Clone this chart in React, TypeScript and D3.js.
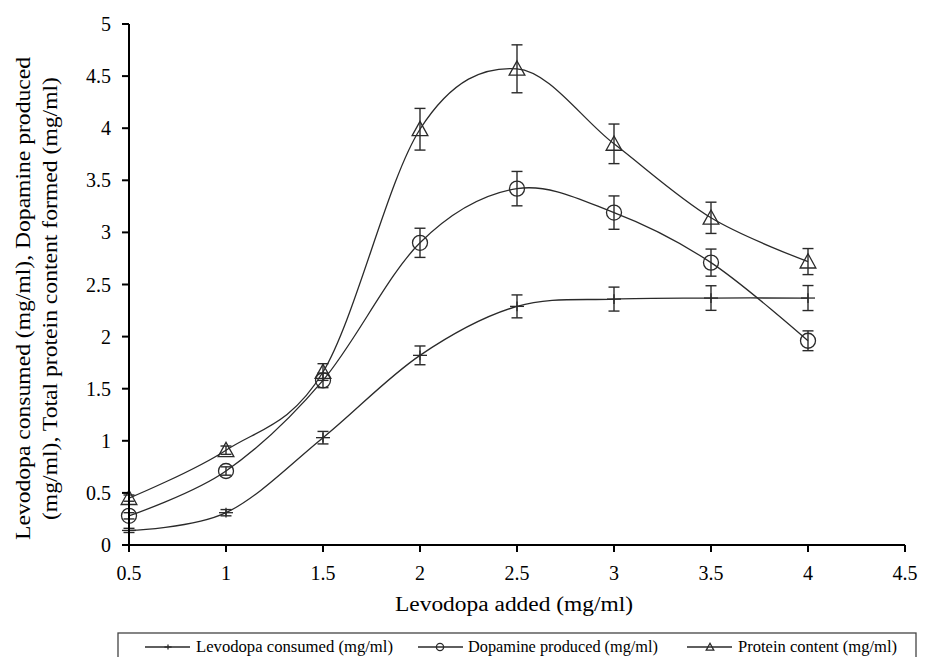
import React from "react";
import * as d3 from "d3";

const xValues = [0.5, 1, 1.5, 2, 2.5, 3, 3.5, 4];
const levodopaConsumed = [0.14, 0.31, 1.03, 1.82, 2.29, 2.36, 2.37, 2.37];
const levodopaErr = [0.02, 0.03, 0.06, 0.09, 0.11, 0.115, 0.118, 0.12];
const dopamineProduced = [0.28, 0.71, 1.58, 2.9, 3.42, 3.19, 2.71, 1.96];
const dopamineErr = [0.03, 0.04, 0.07, 0.14, 0.165, 0.16, 0.13, 0.095];
const proteinContent = [0.45, 0.91, 1.66, 3.99, 4.57, 3.85, 3.14, 2.72];
const proteinErr = [0.03, 0.04, 0.08, 0.2, 0.23, 0.19, 0.15, 0.125];
const xTicks = [0.5, 1, 1.5, 2, 2.5, 3, 3.5, 4, 4.5];
const yTicks = [0, 0.5, 1, 1.5, 2, 2.5, 3, 3.5, 4, 4.5, 5];
const legendLabels = ["Levodopa consumed (mg/ml)", "Dopamine produced (mg/ml)", "Protein content (mg/ml)"];

const FONT = "'Liberation Serif', 'DejaVu Serif', serif";
const INK = "#2a2a2a";

type Marker = "plus" | "circle" | "triangle";

function MarkerShape({ kind, cx, cy, s }: { kind: Marker; cx: number; cy: number; s: number }) {
  if (kind === "plus") {
    return (
      <g stroke={INK} strokeWidth={1.3}>
        <line x1={cx - s} x2={cx + s} y1={cy} y2={cy} />
        <line x1={cx} x2={cx} y1={cy - s * 0.7} y2={cy + s * 0.7} />
      </g>
    );
  }
  if (kind === "circle") {
    return <circle cx={cx} cy={cy} r={s} fill="none" stroke={INK} strokeWidth={1.3} />;
  }
  const h = s * 1.9;
  return (
    <path
      d={`M${cx},${cy - h * 0.55} L${cx + s * 1.05},${cy + h * 0.45} L${cx - s * 1.05},${cy + h * 0.45} Z`}
      fill="none"
      stroke={INK}
      strokeWidth={1.3}
    />
  );
}

const textStyle: React.CSSProperties = { fontFamily: FONT };

export default function App() {
  const W = 931;
  const H = 657;
  const x = d3.scaleLinear().domain([0.5, 4.5]).range([129, 905]);
  const y = d3.scaleLinear().domain([0, 5]).range([545, 24]);

  const line = d3
    .line<[number, number]>()
    .x((d) => x(d[0]))
    .y((d) => y(d[1]))
    .curve(d3.curveCardinal.tension(0));

  const series: { vals: number[]; err: number[]; kind: Marker; size: number }[] = [
    { vals: levodopaConsumed, err: levodopaErr, kind: "plus", size: 7 },
    { vals: dopamineProduced, err: dopamineErr, kind: "circle", size: 7.5 },
    { vals: proteinContent, err: proteinErr, kind: "triangle", size: 7.5 },
  ];

  const legendItems = [
    { lineX: 145, lineX2: 190, mx: 168, tx: 196, len: 197, kind: "plus" as Marker },
    { lineX: 418, lineX2: 463, mx: 440, tx: 468, len: 190, kind: "circle" as Marker },
    { lineX: 687, lineX2: 732, mx: 710, tx: 738, len: 159, kind: "triangle" as Marker },
  ];

  return (
    <svg
      width={W}
      height={H}
      style={{ position: "absolute", left: 0, top: 0, background: "#fff", fontFamily: FONT }}
    >
      <rect x={0} y={0} width={W} height={H} fill="#fff" />

      {series.map((s, i) => (
        <path
          key={"l" + i}
          d={line(xValues.map((xv, j) => [xv, s.vals[j]]) as [number, number][]) || ""}
          fill="none"
          stroke={INK}
          strokeWidth={1.3}
        />
      ))}

      {series.map((s, i) => (
        <g key={"m" + i}>
          {xValues.map((xv, j) => {
            const cx = x(xv);
            const cy = y(s.vals[j]);
            const y1 = y(s.vals[j] + s.err[j]);
            const y2 = y(s.vals[j] - s.err[j]);
            return (
              <g key={j}>
                <MarkerShape kind={s.kind} cx={cx} cy={cy} s={s.size} />
                <g stroke={INK} strokeWidth={1.4}>
                  <line x1={cx} x2={cx} y1={y1} y2={y2} />
                  <line x1={cx - 5.5} x2={cx + 5.5} y1={y1} y2={y1} />
                  <line x1={cx - 5.5} x2={cx + 5.5} y1={y2} y2={y2} />
                </g>
              </g>
            );
          })}
        </g>
      ))}

      <g stroke="#000" strokeWidth={2}>
        <line x1={x(0.5)} x2={x(0.5)} y1={y(0)} y2={y(5)} />
        <line x1={x(0.5)} x2={x(4.5)} y1={y(0)} y2={y(0)} />
        {yTicks.map((t) => (
          <line key={"yt" + t} x1={x(0.5) - 7} x2={x(0.5)} y1={y(t)} y2={y(t)} />
        ))}
        {xTicks.map((t) => (
          <line key={"xt" + t} x1={x(t)} x2={x(t)} y1={y(0)} y2={y(0) + 7} />
        ))}
      </g>
      {yTicks.map((t) => (
        <text key={"yl" + t} x={111} y={y(t)} dy="0.35em" textAnchor="end" fontSize={20} fill="#000" style={textStyle}>
          {String(t)}
        </text>
      ))}
      {xTicks.map((t) => (
        <text key={"xl" + t} x={x(t)} y={580} textAnchor="middle" fontSize={20} fill="#000" style={textStyle}>
          {String(t)}
        </text>
      ))}

      <text x={395} y={611} fontSize={20} fill="#000" style={textStyle} textLength={238} lengthAdjust="spacingAndGlyphs">
        Levodopa added (mg/ml)
      </text>
      <text
        transform="translate(30,540) rotate(-90)"
        fontSize={20}
        fill="#000"
        style={textStyle}
        textLength={483}
        lengthAdjust="spacingAndGlyphs"
      >
        Levodopa consumed (mg/ml), Dopamine produced
      </text>
      <text
        transform="translate(57,520) rotate(-90)"
        fontSize={20}
        fill="#000"
        style={textStyle}
        textLength={443}
        lengthAdjust="spacingAndGlyphs"
      >
        (mg/ml), Total protein content formed (mg/ml)
      </text>

      <rect x={118} y={633} width={798} height={40} fill="none" stroke="#444" strokeWidth={1.3} />
      {legendItems.map((it, i) => (
        <g key={"lg" + i}>
          <line x1={it.lineX} x2={it.lineX2} y1={647} y2={647} stroke={INK} strokeWidth={1.3} />
          <MarkerShape kind={it.kind} cx={it.mx} cy={647} s={3.6} />
          <text
            x={it.tx}
            y={652}
            fontSize={16}
            fill="#000"
            style={textStyle}
            textLength={it.len}
            lengthAdjust="spacingAndGlyphs"
          >
            {legendLabels[i]}
          </text>
        </g>
      ))}
    </svg>
  );
}
